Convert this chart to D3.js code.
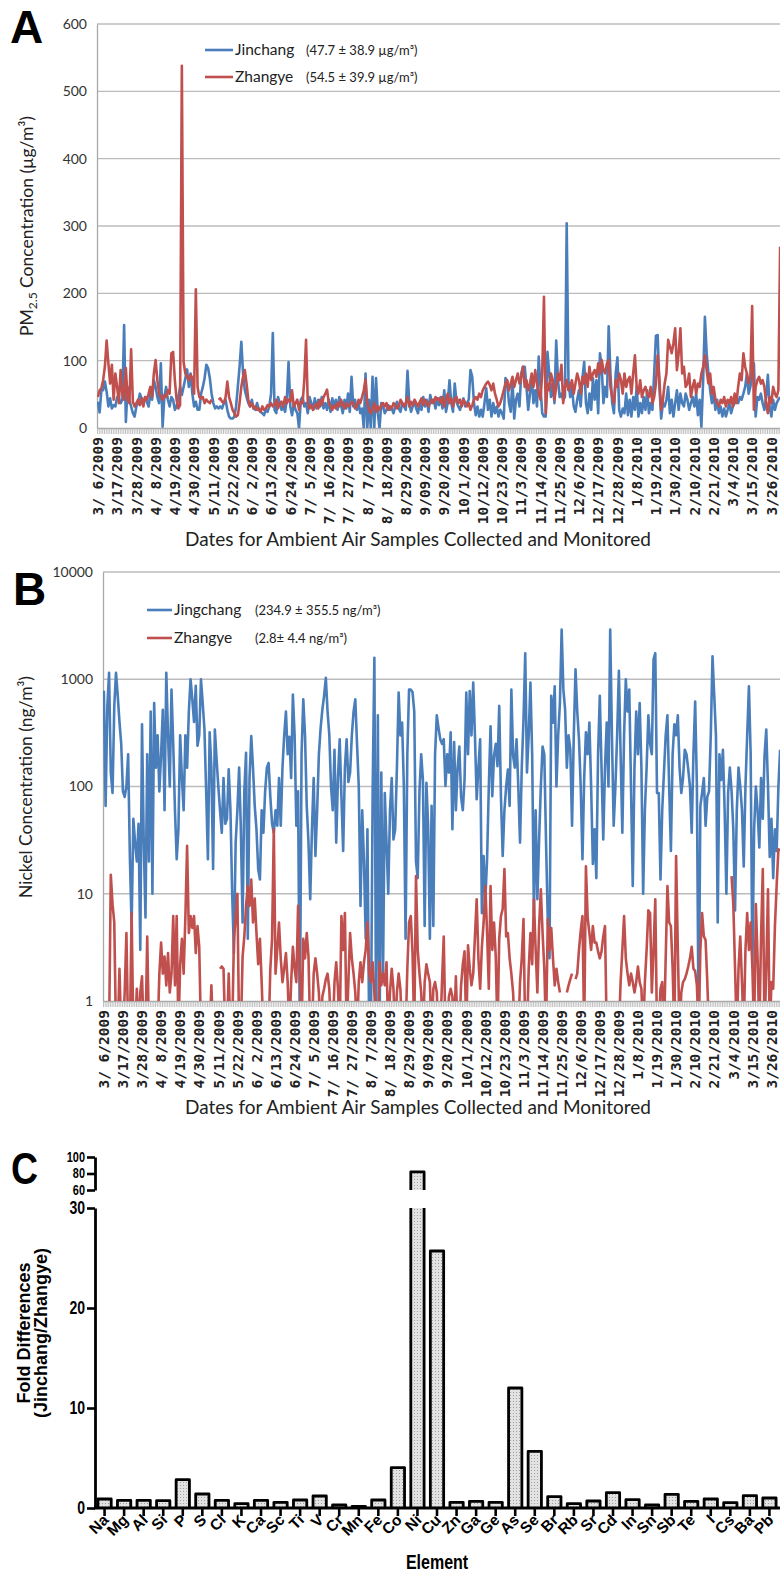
<!DOCTYPE html>
<html>
<head>
<meta charset="utf-8">
<script src="https://cdn.jsdelivr.net/npm/d3@7"></script>
<style>
  body { margin: 0; background: #fff; }
  svg { display: block; }
</style>
</head>
<body>
<svg id="fig" width="780" height="1577"></svg>
<script>
// ---- data ----
const nDays = 391; // 3/6/2009 .. 3/31/2010
const labelEvery = 11;
const dateLabels = ["3/ 6/2009","3/17/2009","3/28/2009","4/ 8/2009","4/19/2009","4/30/2009","5/11/2009","5/22/2009",
  "6/ 2/2009","6/13/2009","6/24/2009","7/ 5/2009","7/ 16/2009","7/ 27/2009","8/ 7/2009","8/ 18/2009","8/29/2009",
  "9/09/2009","9/20/2009","10/1/2009","10/12/2009","10/23/2009","11/3/2009","11/14/2009","11/25/2009","12/6/2009",
  "12/17/2009","12/28/2009","1/8/2010","1/19/2010","1/30/2010","2/10/2010","2/21/2010","3/4/2010","3/15/2010","3/26/2010"];

// PM2.5, ug/m3 (panel A)
const pmJinchang = [
  39,23,56,56,69,54,32,44,29,34,32, 46,44,37,42,153,9,61,42,32,22,17, 32,37,51,44,37,46,39,32,51,42,71,
  61,46,37,96,2,46,61,42,32,46,42, 27,32,46,61,49,61,74,87,61,81,51, 32,39,27,27,51,61,74,94,89,74,51,
  37,29,32,29,32,29,37,42,27,17,14, 14,17,32,61,91,128,81,56,46,37,32, 42,29,27,37,27,24,22,19,27,24,32,
  51,141,27,22,46,37,27,32,24,42,98, 32,19,37,27,22,0,42,46,32,37,22, 46,37,27,44,29,42,32,46,29,37,27,
  42,24,44,32,42,27,46,34,22,42,29, 51,24,76,32,42,27,37,22,29,0,81, 0,42,0,76,0,74,22,0,37,32,22,
  27,34,27,29,22,32,39,29,24,37,32, 27,85,37,24,32,39,29,22,37,27,46, 32,42,24,49,37,42,29,44,34,46,29,
  56,24,37,71,37,24,66,39,32,27,37, 44,32,37,42,86,76,37,19,32,17,27, 17,37,59,27,42,17,37,22,32,17,27,
  22,14,74,69,37,24,71,14,42,51,32, 81,91,91,61,27,51,76,37,56,32,106, 61,22,17,17,113,81,46,66,37,130,71,
  46,51,42,46,304,71,46,61,32,24,42, 56,32,74,98,37,22,51,27,74,42,71, 22,111,91,37,61,46,151,81,37,22,81,
  105,27,17,29,22,51,19,42,17,46,27, 61,17,37,22,46,27,56,22,37,27,81, 137,138,61,14,37,32,42,61,22,42,17,
  37,56,27,51,37,32,51,42,27,37,46, 32,51,19,42,2,71,165,111,81,56,37, 51,27,42,22,32,17,29,17,27,37,22,
  32,37,42,37,46,42,51,61,81,51,61, 81,96,17,46,42,51,37,27,46,79,32, 17,42,27,37,42,46];
const pmZhangye = [
  46,56,59,71,91,130,96,66,94,42,81, 61,37,86,51,42,89,42,37,117,39,32, 37,42,34,44,32,46,42,51,61,46,81,
  101,71,51,46,42,49,46,56,51,111,113, 71,42,29,34,538,98,81,76,71,79,74, 51,206,61,46,44,46,37,42,39,37,42,
  null,null,null,42,44,39,37,46,69,46,37, 27,22,17,19,37,61,76,86,66,42,32, 37,29,32,27,29,24,32,27,29,34,32,
  37,32,34,42,29,37,39,32,46,37,42, 39,56,32,37,42,27,39,37,71,131,37, 29,34,27,32,37,29,42,34,46,51,57,
  37,32,27,34,29,37,32,42,34,29,37, 32,34,39,37,29,32,42,37,46,56,72, 37,27,22,29,37,24,32,27,34,37,32,
  37,27,32,29,37,34,29,32,42,37,32, 37,46,32,39,34,42,37,32,39,44,34, 42,37,32,39,42,37,46,42,44,37,46,
  32,42,51,37,44,32,42,46,37,42,32, 42,37,32,37,27,34,42,46,42,51,46, 56,61,66,69,64,56,66,51,42,32,37,
  46,56,66,71,56,66,76,61,71,81,66, 76,91,61,71,56,66,81,61,86,66,51, 42,81,195,22,66,56,81,71,42,61,81,
  71,94,37,61,71,56,61,71,51,66,81, 71,51,76,66,81,61,91,71,81,86,76, 96,81,101,86,81,96,101,61,46,37,71,
  61,81,71,51,81,61,71,76,51,81,108, 61,51,71,46,56,61,51,46,61,37,46, 66,108,71,27,42,66,81,131,121,111,126,
  148,86,111,148,81,91,61,66,81,46,61, 71,51,66,61,81,91,108,86,66,81,51, 61,42,37,32,42,37,46,32,42,37,46,
  32,51,37,61,81,71,111,91,81,66,76, 181,27,61,71,76,66,71,61,37,22,46, 37,61,51,46,56,269];

// Nickel, ng/m3 (panel B); 0.5 = below the 1 ng/m3 axis floor
const niJinchang = [
  780,66,560,1150,135,87,560,1150,700,400,250, 90,80,100,200,22,5,50,30,20,45,3, 380,30,6,200,20,500,10,600,150,300,90,
  200,520,60,1150,300,100,800,250,60,21,40, 300,120,60,300,150,500,1000,650,400,870,240, 300,1000,600,340,90,21,320,150,17,340,180,
  100,60,37,120,45,50,145,60,10,2.8,30, 60,150,40,5.4,90,206,3.8,120,295,150,66, 40,17,13.6,60,37,90,150,166,80,45,37,
  60,43,120,43,150,300,500,200,290,120,720, 300,43,90,0.5,200,650,300,66,30,8.9,40, 120,22.5,60,200,350,520,700,1030,500,305,100,
  60,220,30,120,276,80,25,150,276,110,135, 300,500,650,250,100,7.7,60,20,3.8,40,0.5, 0.5,87,1585,0.5,460,0.5,135,1.8,87,30,10,
  60,120,32,40,150,750,300,394,100,3.8,200, 800,800,760,500,20,14,90,200,115,5,108, 43,3.8,66,5,200,460,350,276,250,276,101,
  200,135,320,40,260,60,150,236,80,60,115, 750,200,778,300,930,300,76,150,276,6.6,22.5, 8.9,21,100,365,81,193,250,155,564,80,22.5,
  60,100,144,66,800,193,150,276,100,30,150, 420,1750,135,300,930,200,6.6,60,8.9,32,100, 236,200,30,5.8,2.5,700,394,860,100,300,600,
  2900,800,520,150,300,220,43,300,1240,500,276, 100,21,120,320,200,394,100,19,40,14,200, 700,150,32,150,394,100,2900,300,43,100,300,
  1200,200,37,300,1000,500,800,100,11.8,150,500, 200,600,150,10,60,150,460,250,200,1540,1750, 87,87,13.6,60,135,300,460,100,25,200,380,
  300,460,150,87,120,220,200,145,100,37,200, 620,100,0.5,66,87,120,43,80,90,300,1640, 700,295,5.4,200,115,220,60,10,87,150,90,
  40,7,60,150,100,60,18,100,300,860,200, 2.1,40,100,60,27,120,50,193,340,100,22, 50,14,40,25,100,220];
const niZhangye = [
  0.5,0.5,0.5,0.5,15,8,5.4,0.5,0.5,2,0.5, 0.5,1.2,4.3,0.5,0.5,6.6,0.5,0.5,1.3,0.5,1.2, 1.7,0.5,0.5,4,0.5,0.5,0.5,0.5,0.5,0.5,1.8,
  3.5,1.8,2.6,1.4,2.8,1.2,1.8,6.2,1.4,6.2,0.5, 2.2,3.8,1.8,6,28,4.3,6.2,4.8,6.2,2.8,5, 3.2,0.5,0.5,0.5,0.5,0.5,0.5,1.4,0.5,0.5,null,
  null,2,2.1,2,0.5,0.5,1.8,0.5,0.5,3.8,6, 10,0.5,0.5,2.6,4,7.7,11.8,7.7,13.6,5.4,9, 4.3,2.2,3.8,1.5,0.5,0.5,0.5,0.5,2,3.8,40,
  1.8,3,5.4,2.5,1.5,2,2.8,1.5,0.5,1.5,3.2, 2,1.5,7.7,2,0.5,3.8,2.5,4.3,2.6,0.5,0.5, 1.8,2.5,1.8,1.2,0.5,1.1,1.3,1.6,1.8,1.3,0.5,
  0.5,1.5,2.3,1.3,0.5,6.2,3,6.6,0.5,1.5,4.3, 2.5,1.8,1.2,0.5,1.5,2.3,1.5,2.3,3,5.4,1.8, 1.5,2.3,1.2,0.5,0.5,2.3,1.4,1.8,1.4,2.3,0.5,
  1.2,2,1.3,0.5,1.2,1.8,1.3,0.5,0.5,0.5,2, 5.4,6.2,2.8,0.5,14.6,3,1.8,1.2,0.5,1.5,2.2, 1.8,1.5,0.5,1.3,1.5,1.2,0.5,0.5,1.5,4,0.5,
  0.5,1.1,1.3,1.1,0.5,1.7,0.5,0.5,1.4,2.2,2.9, 0.5,3.3,2,1.4,1.8,4,8.9,2.5,1.3,3.2,5.4, 11.8,4.3,1.3,11.8,3,5.4,2.6,0.5,3.8,6.2,7.2,
  17,4,4.3,2.5,1.8,1.2,0.5,0.5,0.5,1.5,2.5, 5.8,0.5,0.5,2,4.3,2.2,8.9,3,1.2,5,11, 4.3,2,0.5,5.8,3,4.8,2.5,1.4,2,1.5,1.2,
  null,null,null,1.2,1.4,1.6,1.8,null,1.6,1.8,3, 4.5,6.2,0.5,18,6,4.3,3,5,3.5,3.5,2.9, 2.5,2.9,4,5,0.5,0.5,0.5,0.5,0.5,0.5,0.5,
  0.5,1.5,3,6.2,2.5,1.8,1.4,1.8,1.5,1.2,1.5, 2.1,1.5,1.3,0.5,1.5,3,7,6.6,1.2,3,8.9, 0.5,0.5,1.3,1.5,0.5,2.5,11.8,5.4,5,2,0.5,
  22.5,3,0.5,1.2,1.5,1.6,1.8,2.1,2.5,3.2,2, 1.9,1.4,0.5,3,6.6,4,3.7,1.5,0.5,0.5,0.5, 0.5,0.5,0.5,0.5,0.5,null,null,null,null,null,14.6,
  8,2,0.5,2,4,1.5,0.5,3,6.6,3,5.4, 2,0.5,8,2.5,0.5,4,17,0.5,2,11,0.5, 1.5,1.3,5,12,26,25];

// panel C
const elements = ["Na","Mg","Al","Si","P","S","Cl","K","Ca","Sc","Ti","V","Cr","Mn","Fe","Co","Ni","Cu",
  "Zn","Ga","Ge","As","Se","Br","Rb","Sr","Cd","In","Sn","Sb","Te","I","Cs","Ba","Pb"];
const foldDiff = [0.9,0.77,0.77,0.73,2.83,1.4,0.77,0.43,0.77,0.57,0.8,1.2,0.3,0.17,0.8,4.03,82,25.7,
  0.57,0.67,0.57,12.0,5.67,1.13,0.43,0.7,1.53,0.83,0.3,1.37,0.67,0.9,0.53,1.23,1.0];

const pmTicks = [0,100,200,300,400,500,600];
const niTicks = [1,10,100,1000,10000];
const foldTicksLow = [0,10,20,30];
const foldTicksHigh = [60,80,100];

// ---- drawing ----
const svg = d3.select("#fig");
const FONT = "Lato, 'Open Sans', sans-serif";
const ARIAL = "'Liberation Sans', Arial, sans-serif";
const BLUE = "#4a7ebb", RED = "#c0504d";
const defs = svg.append("defs");

function timePanel(o) {
  const g = svg.append("g");
  const x = d3.scaleLinear().domain([-0.5, nDays - 0.5]).range([o.left, o.right]);
  const y = o.y;

  g.append("g").selectAll("line").data(o.ticks.slice(1)).join("line")
    .attr("x1", o.left).attr("x2", o.right)
    .attr("y1", d => y(d)).attr("y2", d => y(d))
    .attr("stroke", "#bcbcbc").attr("stroke-width", 1.3);

  const ya = g.append("g").attr("transform", `translate(${o.left},0)`)
    .call(d3.axisLeft(y).tickValues(o.ticks).tickSize(0).tickPadding(10).tickFormat(d3.format("d")));
  ya.select(".domain").attr("stroke", "#a8a8a8").attr("stroke-width", 1.3);
  ya.selectAll("text").attr("font-family", FONT).attr("font-size", 14).attr("fill", "#333");

  const xa = g.append("g").attr("transform", `translate(0,${o.bottom})`)
    .call(d3.axisBottom(x).tickValues(d3.range(nDays + 1).map(i => i - 0.5))
      .tickSize(6).tickSizeOuter(0).tickFormat(""));
  xa.select(".domain").attr("stroke", "#a8a8a8").attr("stroke-width", 1.3);
  xa.selectAll(".tick line").attr("stroke", "#b0b0b0").attr("stroke-width", 0.8);

  g.append("g").selectAll("text").data(dateLabels).join("text")
    .attr("transform", (d, i) => `translate(${x(i * labelEvery)},${o.bottom + 9}) rotate(-90)`)
    .attr("text-anchor", "end").attr("dy", "0.36em")
    .attr("font-family", "'DejaVu Sans Mono', monospace").attr("font-weight", "bold")
    .attr("font-size", o.labelSize).attr("fill", "#222")
    .text(d => d);

  const cid = "clip" + o.id;
  defs.append("clipPath").attr("id", cid).append("rect")
    .attr("x", o.left).attr("y", o.top - 2).attr("width", o.right - o.left).attr("height", o.bottom - o.top + 2);

  const line = d3.line().defined(d => d != null).x((d, i) => x(i)).y(d => y(d));
  const lg = g.append("g").attr("clip-path", `url(#${cid})`);
  o.series.forEach(s => {
    lg.append("path").datum(s.values).attr("d", line)
      .attr("fill", "none").attr("stroke", s.color).attr("stroke-width", 2.6)
      .attr("stroke-linejoin", "round");
  });

  // legend
  o.series.forEach((s, i) => {
    const ly = o.legend.y + i * o.legend.dy;
    g.append("line").attr("x1", o.legend.x).attr("x2", o.legend.x + o.legend.len)
      .attr("y1", ly).attr("y2", ly).attr("stroke", s.color).attr("stroke-width", 2.6);
    g.append("text").attr("x", o.legend.x + o.legend.len + 2).attr("y", ly).attr("dy", "0.35em")
      .attr("font-family", FONT).attr("font-size", 15.5).attr("fill", "#222").text(s.name);
    g.append("text").attr("x", o.legend.statX).attr("y", ly).attr("dy", "0.35em")
      .attr("font-family", FONT).attr("font-size", 13).attr("fill", "#222").text(s.stat);
  });

  // titles
  g.append("text").attr("x", o.titleX).attr("y", o.titleY)
    .attr("text-anchor", "middle").attr("font-family", FONT).attr("font-size", 19).attr("fill", "#222")
    .text("Dates for Ambient Air Samples Collected and Monitored");
  const yt = g.append("text").attr("transform", `translate(${o.yTitleX},${o.yTitleY}) rotate(-90)`)
    .attr("text-anchor", "middle").attr("font-family", FONT).attr("font-size", 17.5).attr("fill", "#222");
  o.yTitle(yt);

  svg.append("text").attr("x", o.letter[0]).attr("y", o.letter[1])
    .attr("font-family", ARIAL).attr("font-weight", "bold")
    .attr("font-size", 46).text(o.letterText);
}

timePanel({
  id: "A", left: 97, right: 781, top: 24, bottom: 428, labelSize: 14.5,
  y: d3.scaleLinear().domain([0, 600]).range([428, 24]), ticks: pmTicks,
  series: [
    {name: "Jinchang", stat: "(47.7 \u00b1 38.9 \u00b5g/m\u00b3)", color: BLUE, values: pmJinchang},
    {name: "Zhangye", stat: "(54.5 \u00b1 39.9 \u00b5g/m\u00b3)", color: RED, values: pmZhangye}],
  legend: {x: 205, len: 28, y: 50, dy: 27, statX: 306},
  titleX: 418, titleY: 546, yTitleX: 33, yTitleY: 226,
  yTitle: t => {
    t.append("tspan").text("PM");
    t.append("tspan").attr("font-size", 12).attr("dy", 4).text("2.5");
    t.append("tspan").attr("dy", -4).text(" Concentration (\u00b5g/m\u00b3)");
  },
  letter: [10, 43], letterText: "A"
});

timePanel({
  id: "B", left: 103, right: 781, top: 572, bottom: 1001, labelSize: 14.5,
  y: d3.scaleLog().domain([1, 10000]).range([1001, 572]), ticks: niTicks,
  series: [
    {name: "Jingchang", stat: "(234.9 \u00b1 355.5 ng/m\u00b3)", color: BLUE, values: niJinchang},
    {name: "Zhangye", stat: "(2.8\u00b1 4.4 ng/m\u00b3)", color: RED, values: niZhangye}],
  legend: {x: 147, len: 25, y: 610, dy: 28, statX: 255},
  titleX: 418, titleY: 1114, yTitleX: 32, yTitleY: 787,
  yTitle: t => t.text("Nickel Concentration (ng/m\u00b3)"),
  letter: [13, 605], letterText: "B"
});

// ---- panel C: fold differences, broken axis ----
const pat = defs.append("pattern").attr("id", "stip").attr("width", 3).attr("height", 3)
  .attr("patternUnits", "userSpaceOnUse");
pat.append("rect").attr("width", 3).attr("height", 3).attr("fill", "#e2e2e2");
pat.append("rect").attr("width", 1).attr("height", 1).attr("fill", "#a0a0a0");

const xC = d3.scaleBand().domain(elements).range([94, 780]).paddingInner(0.32).paddingOuter(0.2);
const yLow = d3.scaleLinear().domain([0, 30]).range([1508, 1208]);
const yHigh = d3.scaleLinear().domain([60, 100]).range([1190, 1157]);
const gC = svg.append("g");

elements.forEach((el, i) => {
  const v = foldDiff[i];
  const x0 = xC(el), x1 = x0 + xC.bandwidth();
  const segs = v <= 30
    ? [{top: yLow(v), bot: yLow(0), cap: true}]
    : [{top: yLow(30), bot: yLow(0), cap: false}, {top: yHigh(v), bot: yHigh(60), cap: true}];
  segs.forEach(s => {
    gC.append("rect").attr("x", x0).attr("y", s.top).attr("width", x1 - x0).attr("height", s.bot - s.top)
      .attr("fill", "url(#stip)");
    const p = s.cap
      ? `M${x0},${s.bot}V${s.top}H${x1}V${s.bot}`
      : `M${x0},${s.bot}V${s.top}M${x1},${s.top}V${s.bot}`;
    gC.append("path").attr("d", p).attr("fill", "none").attr("stroke", "#000").attr("stroke-width", 2.8)
      .attr("stroke-linejoin", "round");
  });
});

// condensed bold labels: squeeze horizontally around their anchor
function condense(sel, k) {
  sel.each(function() {
    const t = d3.select(this);
    const xx = +t.attr("x") || 0;
    t.attr("transform", `translate(${xx},0) scale(${k},1) translate(${-xx},0)`);
  });
}
function styleAxis(a, size) {
  a.select(".domain").attr("stroke", "#000").attr("stroke-width", 2.8);
  a.selectAll(".tick line").attr("stroke", "#000").attr("stroke-width", 2.6);
  a.selectAll("text").attr("font-family", ARIAL).attr("font-weight", "bold")
    .attr("font-size", size).attr("fill", "#000").call(condense, 0.78);
}
styleAxis(gC.append("g").attr("transform", "translate(95,0)")
  .call(d3.axisLeft(yLow).tickValues(foldTicksLow).tickSize(8).tickSizeOuter(0).tickPadding(2)), 18);
styleAxis(gC.append("g").attr("transform", "translate(95,0)")
  .call(d3.axisLeft(yHigh).tickValues(foldTicksHigh).tickSize(8).tickSizeOuter(0).tickPadding(2)), 14);

const xaC = gC.append("g").attr("transform", "translate(0,1508)")
  .call(d3.axisBottom(xC).tickSize(8).tickSizeOuter(0).tickFormat(""));
xaC.select(".domain").attr("d", "M94,0H780").attr("stroke", "#000").attr("stroke-width", 2.8);
xaC.selectAll(".tick line").attr("stroke", "#000").attr("stroke-width", 2.6);

gC.append("g").selectAll("text").data(elements).join("text")
  .attr("transform", d => `translate(${xC(d) + xC.bandwidth() / 2 + 5},${1521}) rotate(-45)`)
  .attr("text-anchor", "end")
  .attr("font-family", ARIAL).attr("font-weight", "bold")
  .attr("font-size", 15.5).text(d => d);

gC.append("text").attr("transform", "translate(437,1569) scale(0.8,1)").attr("text-anchor", "middle")
  .attr("font-family", ARIAL).attr("font-weight", "bold").attr("font-size", 20).text("Element");

const ytC = gC.append("text").attr("transform", "translate(0,1333) rotate(-90)")
  .attr("text-anchor", "middle").attr("font-family", ARIAL)
  .attr("font-weight", "bold").attr("font-size", 18);
ytC.append("tspan").attr("x", 0).attr("y", 30).text("Fold Differences");
ytC.append("tspan").attr("x", 0).attr("y", 47).text("(Jinchang/Zhangye)");

svg.append("text").attr("transform", "translate(11,1184) scale(0.85,1)")
  .attr("font-family", ARIAL).attr("font-weight", "bold")
  .attr("font-size", 44).text("C");
</script>
</body>
</html>
